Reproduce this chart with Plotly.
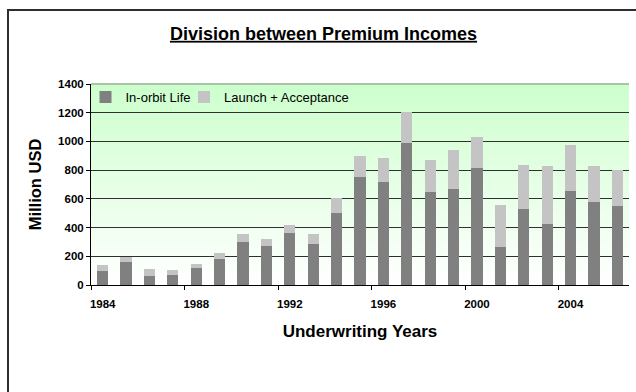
import base64
import plotly.graph_objects as go

# Underwriting years and premium income split (million USD)
years = [str(y) for y in range(1984, 2007)]
in_orbit_life = [100, 157, 60, 67, 116, 181, 303, 275, 359, 289, 505, 755,
                 714, 992, 651, 672, 818, 266, 528, 424, 654, 577, 553]
launch_acceptance = [40, 38, 53, 39, 30, 39, 49, 47, 58, 63, 102, 144,
                     169, 213, 223, 267, 216, 292, 306, 403, 322, 250, 251]
y_ticks = [0, 200, 400, 600, 800, 1000, 1200, 1400]

FONT = "Liberation Sans, Arial, sans-serif"
W, H = 636, 392
ML, MR, MT, MB = 91, 7, 84, 107
PW, PH = W - ML - MR, H - MT - MB


def px_x(x):
    return (x - ML) / PW


def px_y(y):
    return (H - MB - y) / PH


# vertical green-to-white wash for the plotting area
svg = (
    '<svg xmlns="http://www.w3.org/2000/svg" width="10" height="100" '
    'viewBox="0 0 10 100" preserveAspectRatio="none">'
    '<defs><linearGradient id="g" x1="0" y1="0" x2="0" y2="1">'
    '<stop offset="0" stop-color="#ccffcc"/>'
    '<stop offset="1" stop-color="#ffffff"/>'
    '</linearGradient></defs>'
    '<rect width="10" height="100" fill="url(#g)"/></svg>'
)
wash = "data:image/svg+xml;base64," + base64.b64encode(svg.encode()).decode()

fig = go.Figure()
fig.add_trace(go.Bar(x=years, y=in_orbit_life, name="In-orbit Life",
                     marker=dict(color="#808080", line=dict(width=0)),
                     legend="legend", showlegend=True))
fig.add_trace(go.Bar(x=years, y=launch_acceptance, name="Launch + Acceptance",
                     marker=dict(color="#c4c4c4", line=dict(width=0)),
                     legend="legend2", showlegend=True))

legend_style = dict(
    orientation="h",
    xanchor="left",
    y=px_y(82), yanchor="top",
    bgcolor="rgba(0,0,0,0)",
    font=dict(family=FONT, size=13, color="black"),
    itemclick=False,
    visible=True,
)

fig.update_layout(
    width=W, height=H,
    margin=dict(l=ML, r=MR, t=MT, b=MB, pad=0),
    paper_bgcolor="white",
    plot_bgcolor="rgba(0,0,0,0)",
    barmode="stack",
    bargap=0.52,
    showlegend=True,
    font=dict(family=FONT, color="black"),
    title=dict(
        text="Division between Premium Incomes",
        font=dict(family=FONT, size=18, weight=700, lineposition="under"),
        xref="container", yref="container",
        x=323.5 / W, xanchor="center",
        y=1 - 33.5 / H, yanchor="middle",
    ),
    legend=dict(legend_style, x=px_x(85.5)),
    legend2=dict(legend_style, x=px_x(184)),
    xaxis=dict(
        type="category",
        tickmode="linear", tick0=0, dtick=4,
        tickson="boundaries",
        tickangle=0,
        ticks="outside", ticklen=4, tickcolor="black",
        showline=True, linecolor="black", linewidth=1,
        showgrid=False,
        tickfont=dict(family=FONT, size=11.5, weight=700),
        ticklabelstandoff=8,
        title=dict(text="Underwriting Years",
                   font=dict(family=FONT, size=17, weight=700),
                   standoff=16),
    ),
    yaxis=dict(
        range=[0, 1400],
        tickvals=y_ticks,
        ticks="outside", ticklen=4, tickcolor="black",
        showline=True, linecolor="black", linewidth=1,
        showgrid=True, gridcolor="#303030", gridwidth=1,
        zeroline=False,
        tickfont=dict(family=FONT, size=11.5, weight=700),
        title=dict(text="Million USD",
                   font=dict(family=FONT, size=16.5, weight=700),
                   standoff=12),
    ),
    images=[dict(source=wash, xref="paper", yref="paper", x=0, y=1,
                 sizex=1, sizey=1, xanchor="left", yanchor="top",
                 sizing="stretch", layer="below")],
    shapes=[
        # soft upper edge of the plotting area
        dict(type="line", xref="paper", yref="paper", x0=0, x1=1, y0=1, y1=1,
             line=dict(color="#a9c4a9", width=2), layer="between"),
        # chart frame
        dict(type="rect", xref="paper", yref="paper",
             x0=px_x(8), x1=px_x(W + 20), y0=px_y(H + 20), y1=px_y(10),
             line=dict(color="#2e2e2e", width=2), fillcolor="rgba(0,0,0,0)",
             layer="below"),
    ],
)

fig.write_html("out.html")
